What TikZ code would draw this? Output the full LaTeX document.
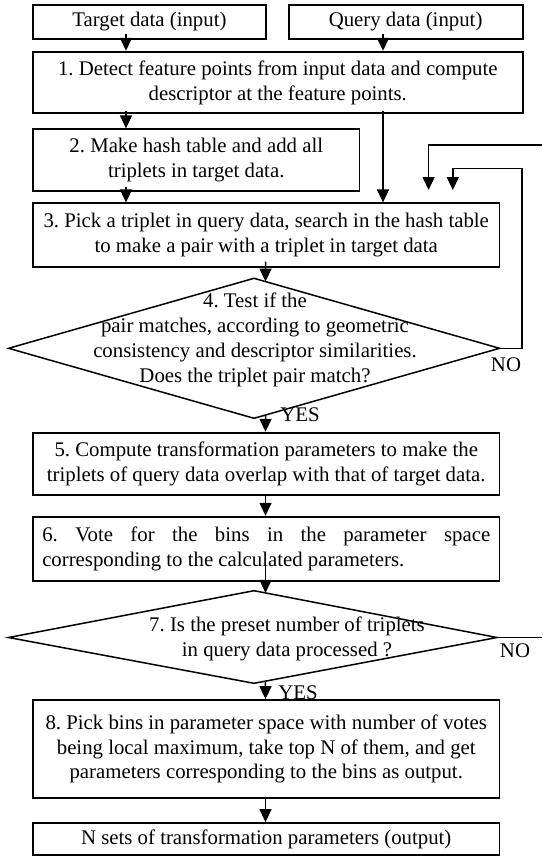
\documentclass[tikz,border=0pt]{standalone}
\usepackage{fontspec}
\setmainfont{Liberation Serif}
\usetikzlibrary{arrows.meta,calc}
\tikzset{
  txtfont/.style={font=\fontsize{20.8}{24.8}\selectfont\frenchspacing},
  box/.style={draw, line width=1.8pt, inner sep=0pt, align=center, txtfont},
  lbl/.style={inner sep=0pt, align=center, txtfont},
  ln/.style={line width=1.5pt},
  arr/.style={line width=1.5pt, -{Triangle[width=12pt,length=13pt]}},
}
\begin{document}
\begin{tikzpicture}[x=1pt,y=-1pt]
\useasboundingbox (0,0) rectangle (542,856);
% columns
\coordinate (xa) at (126,0);
\coordinate (xq) at (383,0);
\coordinate (xc) at (265.5,0);
\coordinate (xcb) at (265.5,900);
% boxes
\node[box, minimum width=233.2pt, minimum height=34pt] (tgt) at (149.4,22) {Target data (input)};
\node[box, minimum width=234pt, minimum height=34pt] (qry) at (405.6,22) {Query data (input)};
\node[box, minimum width=489.6pt, minimum height=61.6pt] (b1) at (277.8,82.5)
  {1. Detect feature points from input data and compute\\descriptor at the feature points.};
\node[box, minimum width=326.5pt, minimum height=61.4pt] (b2) at (196.25,160)
  {2. Make hash table and add all\\triplets in target data.};
\node[box, minimum width=466.5pt, minimum height=63.4pt] (b3) at (266.25,235)
  {3. Pick a triplet in query data, search in the hash table\\to make a pair with a triplet in target data};
% diamond 4
\coordinate (d4t) at (254,278.3);
\coordinate (d4r) at (499.5,348.3);
\coordinate (d4b) at (254,418.3);
\coordinate (d4l) at (8.6,348.3);
\draw[ln, line join=miter] (d4t) -- (d4r) -- (d4b) -- (d4l) -- cycle;
\node[lbl] (d4txt) at (255,340) {4. Test if the\\pair matches, according to geometric\\consistency and descriptor similarities.\\Does the triplet pair match?};
\node[box, minimum width=466.5pt, minimum height=62.3pt] (b5) at (266.25,463.85)
  {5. Compute transformation parameters to make the\\triplets of query data overlap with that of target data.};
\node[box, minimum width=466.5pt, minimum height=64pt, align=left] (b6) at (266.25,548.7)
  {\makebox[448pt][s]{6. Vote for the bins in the parameter space}\\corresponding to the calculated parameters.};
% diamond 7
\coordinate (d7t) at (254,590.7);
\coordinate (d7r) at (497,637.5);
\coordinate (d7b) at (254,683.3);
\coordinate (d7l) at (8.6,637.5);
\draw[ln, line join=miter] (d7t) -- (d7r) -- (d7b) -- (d7l) -- cycle;
\node[lbl] (d7txt) at (287,639) {7. Is the preset number of triplets\\in query data processed ?};
\node[box, minimum width=466.5pt, minimum height=98pt] (b8) at (266.25,749)
  {8. Pick bins in parameter space with number of votes\\being local maximum, take top N of them, and get\\parameters corresponding to the bins as output.};
\node[box, minimum width=466.5pt, minimum height=32pt] (b9) at (266.25,839)
  {N sets of transformation parameters (output)};
% labels
\node[lbl] (no4) at (506,365) {NO};
\node[lbl] (yes4) at (300,415) {YES};
\node[lbl] (no7) at (515,651) {NO};
\node[lbl] (yes7) at (298,693) {YES};
% diamond entry/exit points on the centre column
\coordinate (d4in) at (intersection of xc--xcb and d4t--d4r);
\coordinate (d4out) at (intersection of xc--xcb and d4b--d4r);
\coordinate (d7in) at (intersection of xc--xcb and d7t--d7r);
\coordinate (d7out) at (intersection of xc--xcb and d7b--d7r);
% connectors
\draw[arr] ($(tgt.south -| xa)+(0,-6)$) -- (b1.north -| xa);
\draw[arr] ($(qry.south -| xq)+(0,-6)$) -- (b1.north -| xq);
\draw[arr] ($(b1.south -| xa)+(0,-3)$) -- (b2.north -| xa);
\draw[arr] ($(b1.south -| xq)+(0,-3)$) -- (b3.north -| xq);
\draw[arr] ($(b2.south -| xa)+(0,-5)$) -- (b3.north -| xa);
\draw[arr] ($(b3.south -| xc)+(0,-6)$) -- (d4in);
\draw[arr] (d4out) -- (b5.north -| xc);
\draw[arr] (b5.south -| xc) -- (b6.north -| xc);
\draw[arr] ($(b6.south -| xc)+(0,-16)$) -- (d7in);
\draw[arr] (d7out) -- (b8.north -| xc);
\draw[arr] (b8.south -| xc) -- (b9.north -| xc);
% loop from diamond 4 (NO)
\coordinate (l4a) at (522,348.3);
\coordinate (l4b) at (522,168.3);
\coordinate (l4c) at (452.8,168.3);
\coordinate (l4d) at (452.8,190);
\draw[arr] (d4r) -- (l4a) -- (l4b) -- (l4c) -- (l4d);
% loop from diamond 7 (NO), leaving the picture
\coordinate (l7a) at (542,637.5);
\draw[ln] (d7r) -- (l7a);
\coordinate (l7b) at (542,145);
\coordinate (l7c) at (428.6,145);
\coordinate (l7d) at (428.6,190);
\draw[arr] (l7b) -- (l7c) -- (l7d);
\end{tikzpicture}
\end{document}
